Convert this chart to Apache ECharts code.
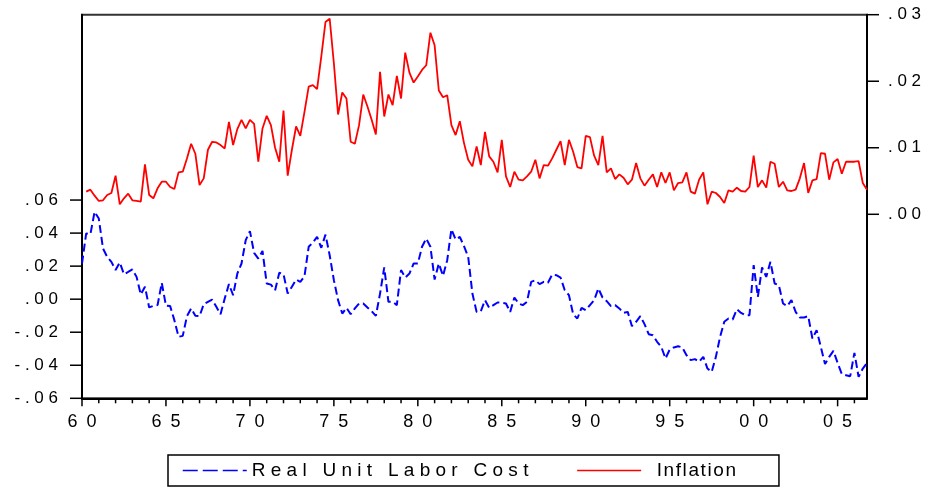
<!DOCTYPE html>
<html>
<head>
<meta charset="utf-8">
<title>Real Unit Labor Cost and Inflation</title>
<script src="https://cdn.jsdelivr.net/npm/echarts@6/dist/echarts.min.js"></script>
<style>
  html, body { margin: 0; padding: 0; background: #fff; }
  #main { width: 930px; height: 489px; }
</style>
</head>
<body>
<div id="main"></div>
<script>
// quarterly data, first observation 1960Q1
const firstYear = 1960;

// real unit labor cost (left axis)
const rulc = [
  0.0216, 0.0398, 0.0393, 0.0529, 0.0488, 0.0307, 0.0256, 0.0226, 0.0176, 0.0222,
  0.0151, 0.0165, 0.0180, 0.0135, 0.0028, 0.0075, -0.0050, -0.0040, -0.0036, 0.0099,
  -0.0040, -0.0042, -0.0127, -0.0228, -0.0222, -0.0103, -0.0056, -0.0101, -0.0103, -0.0030,
  -0.0016, -0.0002, -0.0046, -0.0091, 0.0004, 0.0091, 0.0024, 0.0155, 0.0216, 0.0357,
  0.0412, 0.0280, 0.0246, 0.0292, 0.0095, 0.0088, 0.0054, 0.0160, 0.0151, 0.0034,
  0.0075, 0.0119, 0.0105, 0.0139, 0.0317, 0.0343, 0.0377, 0.0311, 0.0391, 0.0266,
  0.0115, -0.0006, -0.0087, -0.0052, -0.0091, -0.0056, -0.0026, -0.0026, -0.0050, -0.0073,
  -0.0101, 0.0034, 0.0192, -0.0016, -0.0016, -0.0036, 0.0176, 0.0131, 0.0155, 0.0216,
  0.0216, 0.0317, 0.0367, 0.0317, 0.0119, 0.0216, 0.0141, 0.0236, 0.0424, 0.0361,
  0.0377, 0.0321, 0.0256, 0.0034, -0.0077, -0.0073, -0.0006, -0.0052, -0.0036, -0.0020,
  -0.0022, -0.0026, -0.0077, 0.0010, -0.0026, -0.0036, -0.0016, 0.0105, 0.0115, 0.0091,
  0.0105, 0.0099, 0.0149, 0.0145, 0.0131, 0.0054, 0.0024, -0.0091, -0.0117, -0.0052,
  -0.0067, -0.0036, -0.0006, 0.0065, 0.0010, -0.0012, -0.0042, -0.0036, -0.0056, -0.0083,
  -0.0077, -0.0163, -0.0137, -0.0103, -0.0151, -0.0212, -0.0218, -0.0258, -0.0289, -0.0359,
  -0.0305, -0.0292, -0.0285, -0.0292, -0.0339, -0.0369, -0.0363, -0.0379, -0.0349, -0.0420,
  -0.0440, -0.0349, -0.0228, -0.0137, -0.0117, -0.0123, -0.0061, -0.0083, -0.0097, -0.0097,
  0.0206, 0.0014, 0.0192, 0.0135, 0.0226, 0.0095, 0.0085, -0.0026, -0.0042, -0.0006,
  -0.0077, -0.0111, -0.0111, -0.0103, -0.0238, -0.0188, -0.0289, -0.0393, -0.0349, -0.0313,
  -0.0386, -0.0454, -0.0460, -0.0466, -0.0325, -0.0470, -0.0420, -0.0386
];

// inflation (right axis), no value for the first quarter
const inflation = [
  null, 0.0034, 0.0037, 0.0028, 0.0020, 0.0021, 0.0029, 0.0032, 0.0058, 0.0015,
  0.0024, 0.0031, 0.0021, 0.0020, 0.0019, 0.0075, 0.0029, 0.0024, 0.0039, 0.0049,
  0.0049, 0.0041, 0.0038, 0.0063, 0.0064, 0.0084, 0.0106, 0.0091, 0.0044, 0.0054,
  0.0097, 0.0109, 0.0108, 0.0104, 0.0099, 0.0139, 0.0104, 0.0128, 0.0142, 0.0129,
  0.0142, 0.0136, 0.0079, 0.0129, 0.0148, 0.0134, 0.0100, 0.0079, 0.0156, 0.0058,
  0.0097, 0.0132, 0.0118, 0.0154, 0.0192, 0.0194, 0.0188, 0.0237, 0.0289, 0.0294,
  0.0227, 0.0150, 0.0183, 0.0174, 0.0109, 0.0106, 0.0134, 0.0180, 0.0162, 0.0142,
  0.0120, 0.0214, 0.0147, 0.0180, 0.0164, 0.0208, 0.0174, 0.0243, 0.0213, 0.0198,
  0.0207, 0.0217, 0.0224, 0.0273, 0.0254, 0.0186, 0.0176, 0.0179, 0.0134, 0.0119,
  0.0140, 0.0107, 0.0082, 0.0072, 0.0102, 0.0074, 0.0124, 0.0087, 0.0079, 0.0063,
  0.0112, 0.0057, 0.0041, 0.0064, 0.0052, 0.0051, 0.0057, 0.0064, 0.0082, 0.0054,
  0.0074, 0.0073, 0.0084, 0.0097, 0.0110, 0.0074, 0.0112, 0.0094, 0.0071, 0.0069,
  0.0118, 0.0116, 0.0088, 0.0074, 0.0118, 0.0063, 0.0069, 0.0053, 0.0060, 0.0055,
  0.0045, 0.0052, 0.0077, 0.0054, 0.0043, 0.0052, 0.0060, 0.0041, 0.0063, 0.0047,
  0.0063, 0.0036, 0.0047, 0.0048, 0.0063, 0.0034, 0.0031, 0.0052, 0.0063, 0.0015,
  0.0034, 0.0032, 0.0026, 0.0017, 0.0036, 0.0034, 0.0040, 0.0035, 0.0034, 0.0041,
  0.0088, 0.0041, 0.0051, 0.0040, 0.0079, 0.0076, 0.0041, 0.0049, 0.0036, 0.0035,
  0.0037, 0.0054, 0.0077, 0.0032, 0.0051, 0.0053, 0.0092, 0.0091, 0.0052, 0.0078,
  0.0083, 0.0061, 0.0079, 0.0079, 0.0079, 0.0080, 0.0047, 0.0037
];

// tick values
const leftTicks = [-0.06, -0.04, -0.02, 0, 0.02, 0.04, 0.06];
const rightTicks = [0, 0.01, 0.02, 0.03];
const yearLabels = [1960, 1965, 1970, 1975, 1980, 1985, 1990, 1995, 2000, 2005];

const font = "'Liberation Sans', Arial, sans-serif";
const lastX = firstYear + (rulc.length - 1) / 4;

// plot frame (px) and axis ranges; the labelled parts of each y axis
// only cover part of the frame, like in the eviews picture
const W = 930, H = 489;
const plotLeft = 82, plotRight = 867;
const plotTop = 14.7, plotBottom = 398.3;
const leftMin = -0.06, leftMax = 0.1722;
const rightMin = -0.02766, rightMax = 0.03;
const plotH = plotBottom - plotTop;
const leftTopPx = plotBottom - (leftTicks[leftTicks.length - 1] - leftMin) / (leftMax - leftMin) * plotH;
const rightBottomPx = plotTop + (rightMax - rightTicks[0]) / (rightMax - rightMin) * plotH;
const yTickLen = 12, majorTickLen = 8, minorTickLen = 5;

function spaced(s, sep) {
  return s.split('').join(sep);
}

// eviews style: .06, -.02, letters spread out
function fmtY(v) {
  return spaced(v.toFixed(2).replace('0.', '.'), ' ');
}

const rulcData = rulc.map((v, i) => [firstYear + i / 4, v]);
const inflData = [];
inflation.forEach((v, i) => {
  if (v !== null) inflData.push([firstYear + i / 4, v]);
});

const axisLineStyle = { color: '#000', width: 2 };
const labelFont = { fontFamily: font, color: '#000' };

function hiddenAxis(gridIndex, min, max) {
  return { type: 'value', gridIndex: gridIndex, min: min, max: max, show: false };
}

function labelAxis(gridIndex, position, ticks, step, margin) {
  return {
    type: 'value',
    gridIndex: gridIndex,
    position: position,
    min: ticks[0],
    max: ticks[ticks.length - 1],
    interval: step,
    axisLine: { show: false },
    axisTick: { show: false },
    axisLabel: Object.assign({ margin: margin, fontSize: 17, formatter: fmtY }, labelFont),
    splitLine: { show: false }
  };
}

const chart = echarts.init(document.getElementById('main'));

chart.setOption({
  animation: false,
  grid: [{
    // plot
    left: plotLeft, right: W - plotRight, top: plotTop, bottom: H - plotBottom,
    show: true, borderColor: '#333', borderWidth: 2
  }, {
    // labelled part of the left scale
    left: plotLeft, right: W - plotRight, top: leftTopPx, bottom: H - plotBottom
  }, {
    // labelled part of the right scale
    left: plotLeft, right: W - plotRight, top: plotTop, bottom: H - rightBottomPx
  }],
  legend: {
    left: 168,
    top: 455,
    padding: [6, 43, 6, 14],
    borderColor: '#000',
    borderWidth: 1.5,
    itemWidth: 64,
    itemHeight: 14,
    itemGap: 48,
    itemStyle: { opacity: 0 },
    textStyle: { fontFamily: font, fontSize: 19, color: '#000' },
    formatter: function (name) {
      if (name === 'Inflation') return '  ' + spaced(name, '\u200A');
      return name.split(' ').map(w => spaced(w, ' ')).join('   ');
    },
    data: [
      { name: 'Real Unit Labor Cost', lineStyle: { type: [15, 5], width: 1.5 } },
      { name: 'Inflation', lineStyle: { width: 1.5 } }
    ]
  },
  xAxis: [{
    type: 'value',
    gridIndex: 0,
    min: firstYear,
    max: lastX,
    position: 'bottom',
    axisLine: { show: true, onZero: false, lineStyle: axisLineStyle },
    axisTick: { show: false },
    axisLabel: Object.assign({
      customValues: yearLabels,
      margin: 15,
      fontSize: 18,
      formatter: function (v) {
        return spaced(String(v % 100).padStart(2, '0'), '\u2002');
      }
    }, labelFont),
    splitLine: { show: false }
  },
  hiddenAxis(1, firstYear, lastX),
  hiddenAxis(2, firstYear, lastX)],
  yAxis: [{
    type: 'value',
    gridIndex: 0,
    position: 'left',
    min: leftMin,
    max: leftMax,
    axisLine: { show: true, onZero: false, lineStyle: axisLineStyle },
    axisTick: { show: false },
    axisLabel: { show: false },
    splitLine: { show: false }
  }, {
    type: 'value',
    gridIndex: 0,
    position: 'right',
    min: rightMin,
    max: rightMax,
    axisLine: { show: true, onZero: false, lineStyle: axisLineStyle },
    axisTick: { show: false },
    axisLabel: { show: false },
    splitLine: { show: false }
  },
  labelAxis(1, 'left', leftTicks, 0.02, 24),
  labelAxis(2, 'right', rightTicks, 0.01, 21)],
  series: [{
    name: 'Real Unit Labor Cost',
    type: 'line',
    xAxisIndex: 0,
    yAxisIndex: 0,
    data: rulcData,
    symbol: 'none',
    lineStyle: { color: '#0000ff', width: 2, type: [8, 4] },
    itemStyle: { color: '#0000ff' }
  }, {
    name: 'Inflation',
    type: 'line',
    xAxisIndex: 0,
    yAxisIndex: 1,
    data: inflData,
    symbol: 'none',
    lineStyle: { color: '#ff0000', width: 1.8 },
    itemStyle: { color: '#ff0000' }
  }]
});

// tick marks, placed with the chart's own scales
function tickMark(x1, y1, x2, y2) {
  return {
    type: 'line',
    silent: true,
    z: 10,
    shape: { x1: x1, y1: y1, x2: x2, y2: y2 },
    style: { stroke: '#000', lineWidth: 1.5 }
  };
}

const axisLeftPx = chart.convertToPixel({ xAxisIndex: 0 }, firstYear);
const axisRightPx = chart.convertToPixel({ xAxisIndex: 0 }, lastX);
const axisBottomPx = chart.convertToPixel({ yAxisIndex: 0 }, leftMin);
const marks = [];
leftTicks.forEach(v => {
  const y = chart.convertToPixel({ yAxisIndex: 0 }, v);
  marks.push(tickMark(axisLeftPx - yTickLen, y, axisLeftPx, y));
});
rightTicks.forEach(v => {
  const y = chart.convertToPixel({ yAxisIndex: 1 }, v);
  marks.push(tickMark(axisRightPx, y, axisRightPx + yTickLen, y));
});
for (let yr = firstYear; yr <= lastX; yr++) {
  const x = chart.convertToPixel({ xAxisIndex: 0 }, yr);
  const len = yr % 5 === 0 ? majorTickLen : minorTickLen;
  marks.push(tickMark(x, axisBottomPx, x, axisBottomPx + len));
}
chart.setOption({ graphic: { elements: marks } });
</script>
</body>
</html>
